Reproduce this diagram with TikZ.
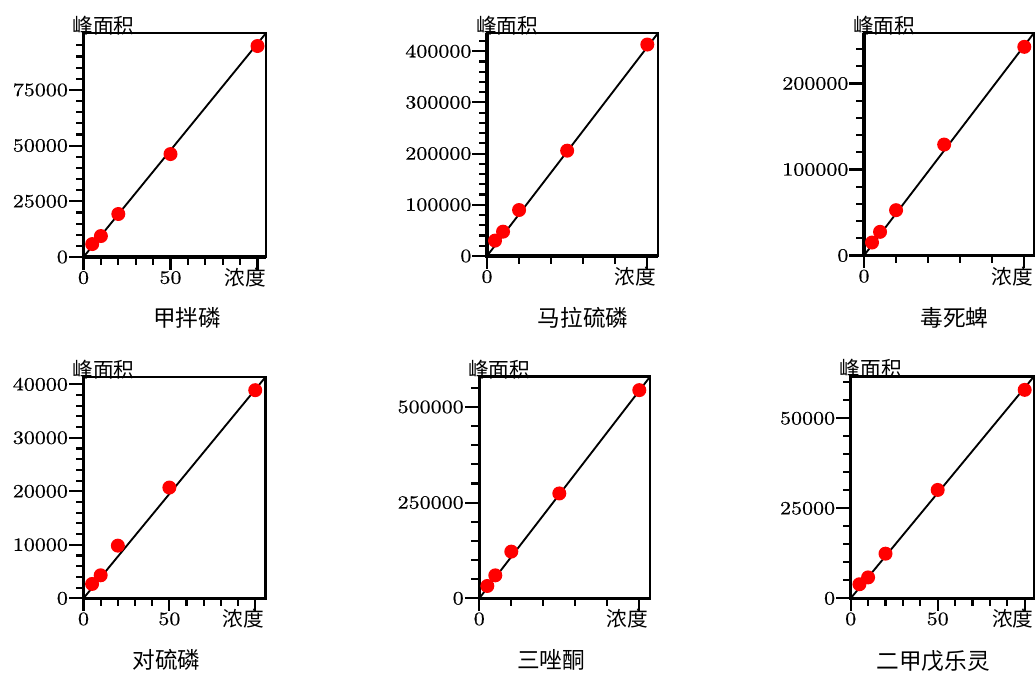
\documentclass[tikz,border=0pt]{standalone}
\usepackage{fontspec}
\usepackage{tikz}
\newfontfamily\cjk{Noto Sans CJK SC}
\newfontfamily\numfont[FakeStretch=1.18, FakeBold=0.6]{lmroman10-regular.otf}

\tikzset{
  frm/.style={line width=1.9pt},
  axln/.style={line width=2.6pt},
  tk/.style={line width=1.6pt},
  fitln/.style={line width=1.4pt},
  dot/.style={circle, fill=red, inner sep=0pt, minimum size=10.5pt},
  ylbl/.style={anchor=east, inner sep=0pt, xshift=-11.5pt, font=\numfont\fontsize{14}{14}\selectfont},
  xlbl/.style={inner sep=0pt, yshift=-15.5pt, font=\numfont\fontsize{14}{14}\selectfont},
  xname/.style={inner sep=0pt, yshift=-15.5pt, xshift=-9pt, font=\cjk\fontsize{15.5}{16}\selectfont},
  yname/.style={inner sep=0pt, xshift=15pt, yshift=5.6pt, font=\cjk\fontsize{15.5}{16}\selectfont},
  plotcap/.style={inner sep=0pt, font=\cjk\fontsize{17}{18}\selectfont}
}

\begin{document}
\begin{tikzpicture}[x=0.75pt, y=-0.75pt]
\useasboundingbox (0,0) rectangle (1035,673);

% 甲拌磷
\begin{scope}[shift={(83.5,257)}, x=1.305pt, y=1.671pt]
  \coordinate (o1) at (0,0);
  \coordinate (c1) at (104.9,100.5);
  \foreach \v in {0,5,...,95} \draw[tk] (0,\v) -- ++(-6pt,0);
  \foreach \v/\t in {0/0,25/25000,50/50000,75/75000} {
    \draw[tk] (0,\v) -- ++(-11pt,0);
    \node[ylbl] (l1y\v) at (0,\v) {\t};
  }
  \foreach \v in {0,10,...,100} \draw[tk] (\v,0) -- ++(0,-6pt);
  \foreach \v in {0,50,100} \draw[tk] (\v,0) -- ++(0,-9.75pt);
  \node[xlbl] (l1x0) at (0,0) {0};
  \node[xlbl] (l1x50) at (50,0) {50};
  \node[xname] (l1xn) at (100,0) {浓度};
  \node[yname] (l1yn) at (o1 |- c1) {峰面积};
  \draw[frm] (o1) rectangle (c1);
  \draw[axln] (o1 |- c1) -- (o1) -- (c1 |- o1);
  \draw[fitln] (o1) -- (c1);
  \foreach \p/\q [count=\i] in {5/5.8,10/9.4,20/19.3,50/46.2,100/94.7}
    \node[dot] (d1\i) at (\p,\q) {};
\end{scope}
\node[plotcap] (cap1) at (187,318) {甲拌磷};

% 马拉硫磷
\begin{scope}[shift={(487,256)}, x=1.2023pt, y=0.384pt]
  \coordinate (o2) at (0,0);
  \coordinate (c2) at (106.7,435.5);
  \foreach \v in {0,20,...,420} \draw[tk] (0,\v) -- ++(-6pt,0);
  \foreach \v/\t in {0/0,100/100000,200/200000,300/300000,400/400000} {
    \draw[tk] (0,\v) -- ++(-11pt,0);
    \node[ylbl] (l2y\v) at (0,\v) {\t};
  }
  \foreach \v in {0,20,...,100} \draw[tk] (\v,0) -- ++(0,-6pt);
  \foreach \v in {0,100} \draw[tk] (\v,0) -- ++(0,-9.75pt);
  \node[xlbl] (l2x0) at (0,0) {0};
  \node[xname] (l2xn) at (100,0) {浓度};
  \node[yname] (l2yn) at (o2 |- c2) {峰面积};
  \draw[frm] (o2) rectangle (c2);
  \draw[axln] (o2 |- c2) -- (o2) -- (c2 |- o2);
  \draw[fitln] (o2) -- (c2);
  \foreach \p/\q [count=\i] in {5/30,10/47.5,20/89.8,50/205.7,100/413}
    \node[dot] (d2\i) at (\p,\q) {};
\end{scope}
\node[plotcap] (cap2) at (583,318) {马拉硫磷};

% 毒死蜱
\begin{scope}[shift={(864,255.5)}, x=1.2023pt, y=0.645pt]
  \coordinate (o3) at (0,0);
  \coordinate (c3) at (106,258.7);
  \foreach \v in {0,20,...,240} \draw[tk] (0,\v) -- ++(-6pt,0);
  \foreach \v/\t in {0/0,100/100000,200/200000} {
    \draw[tk] (0,\v) -- ++(-11pt,0);
    \node[ylbl] (l3y\v) at (0,\v) {\t};
  }
  \foreach \v in {0,20,...,100} \draw[tk] (\v,0) -- ++(0,-6pt);
  \foreach \v in {0,100} \draw[tk] (\v,0) -- ++(0,-9.75pt);
  \node[xlbl] (l3x0) at (0,0) {0};
  \node[xname] (l3xn) at (100,0) {浓度};
  \node[yname] (l3yn) at (o3 |- c3) {峰面积};
  \draw[frm] (o3) rectangle (c3);
  \draw[axln] (o3 |- c3) -- (o3) -- (c3 |- o3);
  \draw[fitln] (o3) -- (c3);
  \foreach \p/\q [count=\i] in {5/15.1,10/27.5,20/52.7,50/129,100/242.6}
    \node[dot] (d3\i) at (\p,\q) {};
\end{scope}
\node[plotcap] (cap3) at (954.5,318) {毒死蜱};

% 对硫磷
\begin{scope}[shift={(83.5,598.3)}, x=1.288pt, y=4.0125pt]
  \coordinate (o4) at (0,0);
  \coordinate (c4) at (106.1,41.4);
  \foreach \v in {0,2,...,40} \draw[tk] (0,\v) -- ++(-6pt,0);
  \foreach \v/\t in {0/0,10/10000,20/20000,30/30000,40/40000} {
    \draw[tk] (0,\v) -- ++(-11pt,0);
    \node[ylbl] (l4y\v) at (0,\v) {\t};
  }
  \foreach \v in {0,10,...,100} \draw[tk] (\v,0) -- ++(0,-6pt);
  \foreach \v in {0,50,100} \draw[tk] (\v,0) -- ++(0,-9.75pt);
  \node[xlbl] (l4x0) at (0,0) {0};
  \node[xlbl] (l4x50) at (50,0) {50};
  \node[xname] (l4xn) at (100,0) {浓度};
  \node[yname] (l4yn) at (o4 |- c4) {峰面积};
  \draw[frm] (o4) rectangle (c4);
  \draw[axln] (o4 |- c4) -- (o4) -- (c4 |- o4);
  \draw[fitln] (o4) -- (c4);
  \foreach \p/\q [count=\i] in {5/2.68,10/4.3,20/9.84,50/20.7,100/38.9}
    \node[dot] (d4\i) at (\p,\q) {};
\end{scope}
\node[plotcap] (cap4) at (166.5,660) {对硫磷};

% 三唑酮
\begin{scope}[shift={(479.3,598.3)}, x=1.2pt, y=0.287pt]
  \coordinate (o5) at (0,0);
  \coordinate (c5) at (106.7,579);
  \foreach \v in {0,50,...,550} \draw[tk] (0,\v) -- ++(-6pt,0);
  \foreach \v/\t in {0/0,250/250000,500/500000} {
    \draw[tk] (0,\v) -- ++(-11pt,0);
    \node[ylbl] (l5y\v) at (0,\v) {\t};
  }
  \foreach \v in {0,20,...,100} \draw[tk] (\v,0) -- ++(0,-6pt);
  \foreach \v in {0,100} \draw[tk] (\v,0) -- ++(0,-9.75pt);
  \node[xlbl] (l5x0) at (0,0) {0};
  \node[xname] (l5xn) at (100,0) {浓度};
  \node[yname] (l5yn) at (o5 |- c5) {峰面积};
  \draw[frm] (o5) rectangle (c5);
  \draw[axln] (o5 |- c5) -- (o5) -- (c5 |- o5);
  \draw[fitln] (o5) -- (c5);
  \foreach \p/\q [count=\i] in {5/32.2,10/60,20/122,50/274,100/544}
    \node[dot] (d5\i) at (\p,\q) {};
\end{scope}
\node[plotcap] (cap5) at (551,660) {三唑酮};

% 二甲戊乐灵
\begin{scope}[shift={(850.7,598.3)}, x=1.305pt, y=2.7pt]
  \coordinate (o6) at (0,0);
  \coordinate (c6) at (105.3,61.6);
  \foreach \v in {0,5,...,60} \draw[tk] (0,\v) -- ++(-6pt,0);
  \foreach \v/\t in {0/0,25/25000,50/50000} {
    \draw[tk] (0,\v) -- ++(-11pt,0);
    \node[ylbl] (l6y\v) at (0,\v) {\t};
  }
  \foreach \v in {0,10,...,100} \draw[tk] (\v,0) -- ++(0,-6pt);
  \foreach \v in {0,50,100} \draw[tk] (\v,0) -- ++(0,-9.75pt);
  \node[xlbl] (l6x0) at (0,0) {0};
  \node[xlbl] (l6x50) at (50,0) {50};
  \node[xname] (l6xn) at (100,0) {浓度};
  \node[yname] (l6yn) at (o6 |- c6) {峰面积};
  \draw[frm] (o6) rectangle (c6);
  \draw[axln] (o6 |- c6) -- (o6) -- (c6 |- o6);
  \draw[fitln] (o6) -- (c6);
  \foreach \p/\q [count=\i] in {5/3.9,10/5.8,20/12.4,50/30.1,100/57.9}
    \node[dot] (d6\i) at (\p,\q) {};
\end{scope}
\node[plotcap] (cap6) at (933,661) {二甲戊乐灵};

\end{tikzpicture}
\end{document}
